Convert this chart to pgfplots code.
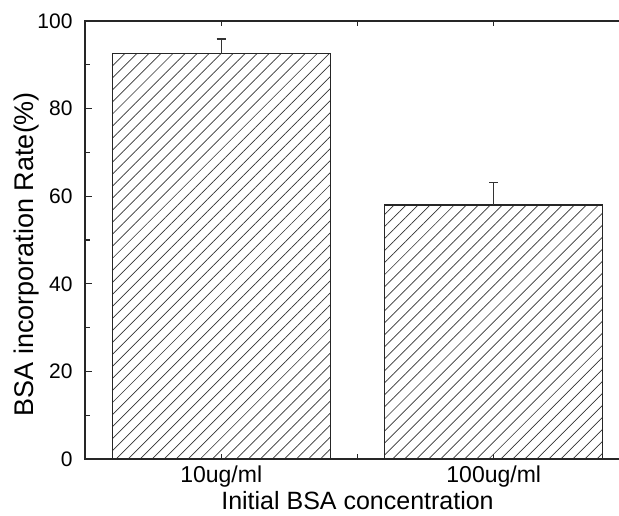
\documentclass[border=0pt]{standalone}
\usepackage{fontspec}
\setmainfont{Liberation Sans}
\usepackage{pgfplots}
\pgfplotsset{compat=1.18}
\usetikzlibrary{patterns.meta}

\begin{document}
\begin{tikzpicture}
\begin{axis}[
  scale only axis,
  width=545pt, height=438pt,
  xmin=0.5, xmax=2.5,
  ymin=0, ymax=100,
  axis line style={black!85, line width=1.3pt},
  xtick={1,1.5,2},
  xticklabels={10ug/ml,,100ug/ml},
  ytick={0,20,...,100},
  minor ytick={10,30,...,90},
  ytick pos=left,
  major tick length=7pt,
  minor tick length=5pt,
  every tick/.style={black!85, line width=1.1pt},
  x tick style={/pgfplots/major tick length=5pt},
  /pgf/number format/assume math mode=true,
  yticklabel style={font=\fontsize{21pt}{25pt}\selectfont, xshift=-9pt},
  xticklabel style={font=\fontsize{23pt}{27pt}\selectfont, yshift=-3pt},
  xlabel={Initial BSA concentration},
  ylabel={BSA incorporation Rate(\%)},
  xlabel style={font=\fontsize{25pt}{29pt}\selectfont,
    at={(axis description cs:0.5,-0.1164)}, anchor=base},
  ylabel style={font=\fontsize{27pt}{31pt}\selectfont,
    at={(axis description cs:-0.0954,0.468)}, anchor=base},
]
% bars
\addplot[ybar, bar width=0.8, draw=black!85, line width=1.2pt,
  pattern={Lines[angle=45,distance=8.5pt,line width=0.7pt]},
  pattern color=black!80]
  coordinates {(1,92.5) (2,58.0)};
% upper error bars
\addplot[draw=none, mark=none,
  error bars/.cd, y dir=plus, y explicit,
  error mark=|,
  error bar style={line width=1.2pt, draw=black!80},
  error mark options={solid, mark size=4.5pt, line width=1.2pt, draw=black!80}]
  coordinates {(1,92.5) +- (0,3.4) (2,58.0) +- (0,5.1)};
\coordinate (o) at (rel axis cs:0,0);
\end{axis}
\pgfresetboundingbox
\useasboundingbox ([shift={(-85pt,-56pt)}]o) rectangle ([shift={(534pt,459pt)}]o);
\end{tikzpicture}
\end{document}
